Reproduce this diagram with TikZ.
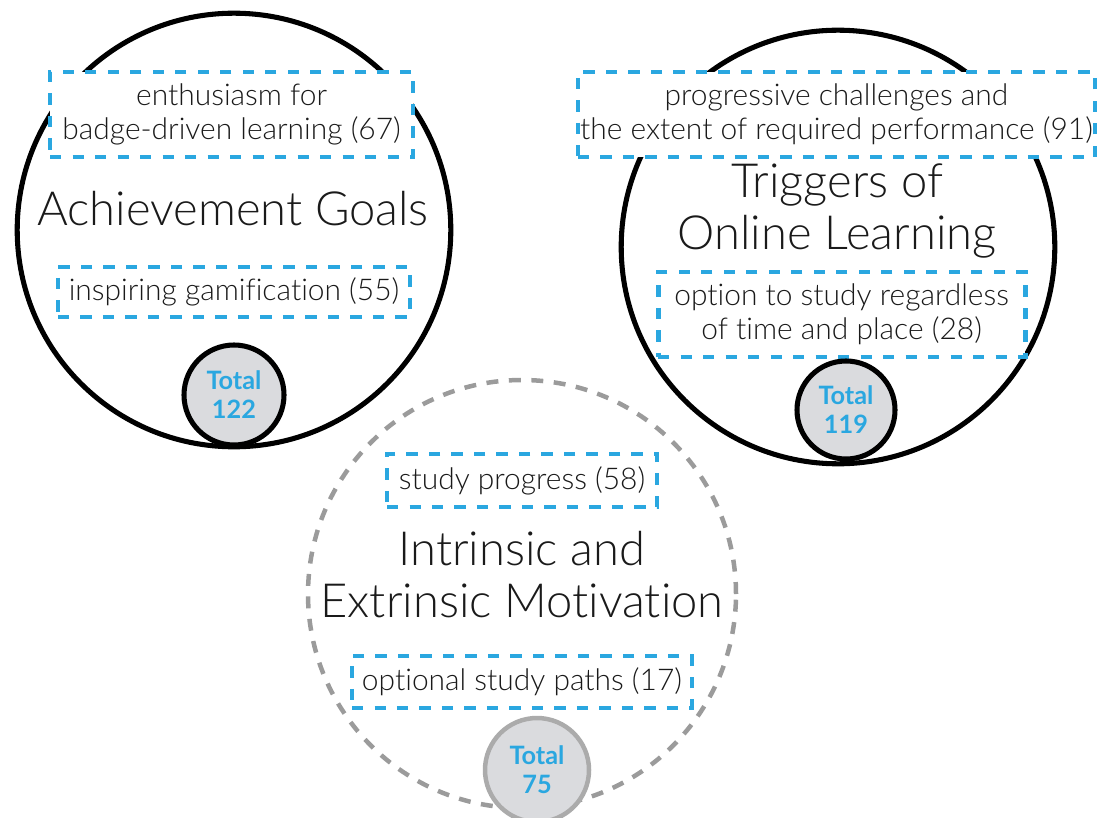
\documentclass[tikz,border=0pt]{standalone}
\usepackage{fontspec}
\setmainfont{Lato}[UprightFont={* Light}, BoldFont={* Bold}, Ligatures=NoCommon]
\usetikzlibrary{positioning}
\definecolor{codeblue}{HTML}{2AA7E0}
\definecolor{ringgray}{HTML}{9B9B9B}
\definecolor{totfill}{HTML}{DADBDE}
\definecolor{totgray}{HTML}{ABABAB}
\definecolor{inkdark}{HTML}{1A1A1A}

\begin{document}
\begin{tikzpicture}[
  ring/.style={circle, draw=black, line width=3.6pt, inner sep=0pt},
  dashring/.style={circle, draw=ringgray, line width=3.2pt, dash pattern=on 8.5pt off 7.5pt, inner sep=0pt},
  codebox/.style={draw=codeblue, fill=white, line width=3.4pt, dash pattern=on 8pt off 8pt, inner sep=0pt, align=center, text=inkdark, font=\fontsize{21.3}{24.2}\selectfont},
  theme/.style={align=center, text=inkdark, font=\fontsize{33.5}{37}\selectfont},
  total/.style={circle, fill=totfill, draw=black, line width=3.6pt, inner sep=0pt, align=center, text=codeblue, font=\fontsize{18}{20.5}\selectfont\bfseries}
]

% Canvas
\useasboundingbox (0,0) rectangle (27.55,20.425);
\clip (0,0) rectangle (27.55,20.425);

% Theme rings
\node[ring, minimum size=10.84cm] (goals) at (5.85,14.675) {};
\node[ring, minimum size=10.84cm] (triggers) at (20.95,14.25) {};
\node[dashring, minimum size=10.7cm] (motiv) at (13.05,5.575) {};

% Codes: Achievement Goals
\node[codebox, minimum width=9.075cm, minimum height=2.125cm] (enth) at (5.79,17.56) {enthusiasm for\\badge-driven learning (67)};
\node[codebox, minimum width=8.8cm, minimum height=1.25cm] (gamif) at (5.85,13.125) {inspiring gamification (55)};

% Codes: Triggers of Online Learning
\node[codebox, minimum width=12.925cm, minimum height=2.125cm] (progr) at (20.91,17.56) {progressive challenges and\\the extent of required performance (91)};
\node[codebox, minimum width=9.175cm, minimum height=2.125cm] (option) at (21.04,12.56) {option to study regardless\\of time and place (28)};

% Codes: Intrinsic and Extrinsic Motivation
\node[codebox, minimum width=6.75cm, minimum height=1.325cm] (progress) at (13.05,8.41) {study progress (58)};
\node[codebox, minimum width=8.5cm, minimum height=1.3cm] (paths) at (13.05,3.375) {optional study paths (17)};

% Theme titles
\node[theme] (goalstitle) at (5.825,15.2) {Achievement Goals};
\node[theme] (trigtitle) at (20.925,15.15) {Triggers of\\Online Learning};
\node[theme] (motivtitle) at (13.05,6.05) {Intrinsic and\\Extrinsic Motivation};

% Totals
\node[total, minimum size=2.5cm] (tot1) at (5.85,10.55) {Total\\122};
\node[total, minimum size=2.45cm] (tot2) at (21.15,10.175) {Total\\119};
\node[total, draw=totgray, line width=3.2pt, minimum size=2.6cm] (tot3) at (13.425,1.175) {Total\\75};

\end{tikzpicture}
\end{document}
